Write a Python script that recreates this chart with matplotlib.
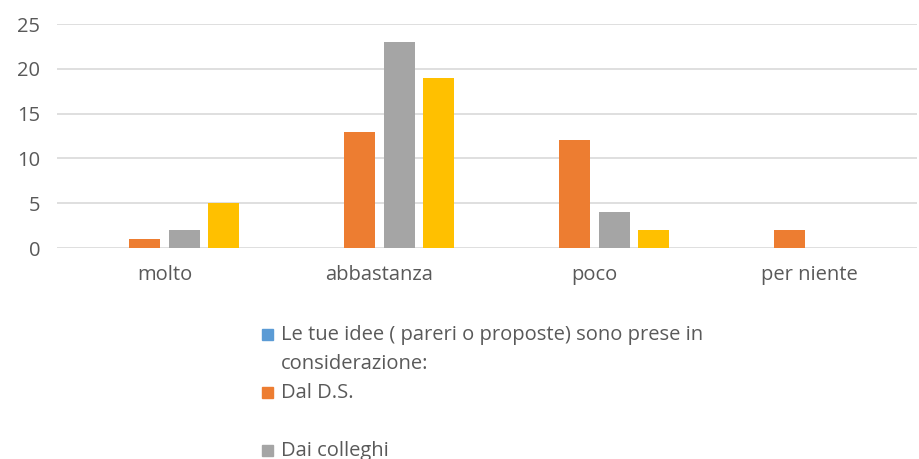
import numpy as np
import matplotlib
matplotlib.use("Agg")
import matplotlib.pyplot as plt
from matplotlib.patches import Rectangle

categories = ["molto", "abbastanza", "poco", "per niente"]
series_labels = [
    "Le tue idee ( pareri o proposte) sono prese in\nconsiderazione:",
    "Dal D.S.",
    "Dai colleghi",
    "Dal personale ATA",
]
idee = [0, 0, 0, 0]
dal_ds = [1, 13, 12, 2]
dai_colleghi = [2, 23, 4, 0]
dal_ata = [5, 19, 2, 0]
yticks = [0, 5, 10, 15, 20, 25]

colors = ["#5B9BD5", "#ED7D31", "#A5A5A5", "#FFC000"]
text_color = "#595959"

plt.rcParams['font.family'] = ['Open Sans', 'DejaVu Sans']
fs = 14.5

fig = plt.figure(figsize=(9.2, 4.59), dpi=100)
ax = fig.add_axes([57 / 920, 1 - 248 / 459, 860 / 920, (248 - 24) / 459])

x = np.arange(len(categories))
step = 0.183
width = 0.144
all_series = [idee, dal_ds, dai_colleghi, dal_ata]
for i, vals in enumerate(all_series):
    ax.bar(x + (i - 1.5) * step, vals, width, color=colors[i], zorder=3)

ax.set_xlim(-0.5, len(categories) - 0.5)
ax.set_ylim(0, 25)
ax.set_yticks(yticks)
ax.set_xticks(x)
ax.set_xticklabels(categories)
ax.grid(axis="y", color="#D9D9D9", linewidth=1.2, zorder=0)
for s in ax.spines.values():
    s.set_visible(False)
ax.tick_params(length=0, labelsize=fs, labelcolor=text_color)
ax.tick_params(axis="x", pad=12)
ax.tick_params(axis="y", pad=12)

# legend drawn by hand, Excel style: every entry takes two line slots
# (the last entry falls below the bottom edge, as in the original)
line_h = 29
base0 = 340
for i, lab in enumerate(series_labels):
    base = base0 + i * 2 * line_h
    if base > 459:
        continue
    yc = base - 6
    fig.patches.append(Rectangle((262 / 920, 1 - (yc + 5.5) / 459), 11 / 920, 11 / 459,
                                 transform=fig.transFigure, color=colors[i]))
    for j, line in enumerate(lab.split("\n")):
        fig.text(281 / 920, 1 - (base + j * line_h) / 459, line, ha="left",
                 va="baseline", fontsize=fs, color=text_color)

fig.savefig("out.png", dpi=100)
